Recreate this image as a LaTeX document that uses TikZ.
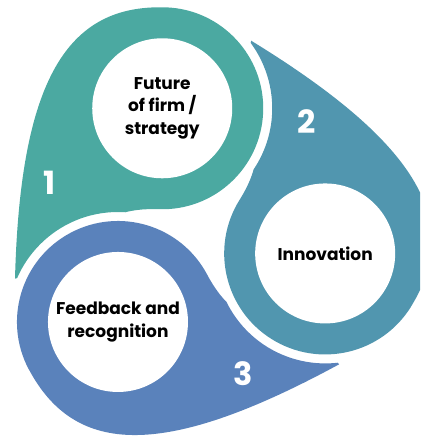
\documentclass[tikz,border=0pt]{standalone}
\usepackage{fontspec}
\setmainfont{Poppins}
\definecolor{petalA}{HTML}{4BA9A1}
\definecolor{petalB}{HTML}{5196AF}
\definecolor{petalC}{HTML}{5A82BB}

% one drop: circle with a tail, cut away round the next circle
\newcommand{\petal}[2]{%
  \begin{scope}[rotate=#1]
    \clip (-400,-400) -- (400,-400) -- (400,400) -- (-400,400) -- cycle
      (26.2,-94.1) arc[start angle=0, end angle=-360, radius=110pt];
    \fill[#2] (-36.1,220.5) .. controls (-134,223.8) and (-181.5,149.2) .. (-186.8,-50.8)
      -- (-150,-40) .. controls (-110,10) and (-80.1,20) .. (-43.1,18.7)
      arc[start angle=268, end angle=448, radius=101pt] -- cycle;
  \end{scope}}

\tikzset{
  stage text/.style={align=center, font=\bfseries\fontsize{17}{22.5}\selectfont},
  stage number/.style={text=white, font=\bfseries\fontsize{32}{32}\selectfont},
}

\begin{document}
\begin{tikzpicture}[x=1pt, y=1pt]
  \useasboundingbox (-201.8,-208.1) rectangle (218.2,227.9);
  \clip (-201.8,-208.1) rectangle (218.2,227.9);
  \petal{0}{petalA}
  \petal{-120}{petalB}
  \petal{120}{petalC}
  \fill[white]
    (108.3:126) circle[radius=70pt]
    (-11.7:126) circle[radius=70pt]
    (228.3:126) circle[radius=70pt];
  \node[stage text] (future) at (108.3:126) {Future\\of firm /\\strategy};
  \node[stage text] (innov) at (-11.7:126) {Innovation};
  \node[stage text] (feedback) at (228.3:126) {Feedback and\\recognition};
  \node[stage number] (one) at (-152.5,44.6) {1};
  \node[stage number] (two) at (104.9,106.2) {2};
  \node[stage number] (three) at (41.5,-145.4) {3};
\end{tikzpicture}
\end{document}
